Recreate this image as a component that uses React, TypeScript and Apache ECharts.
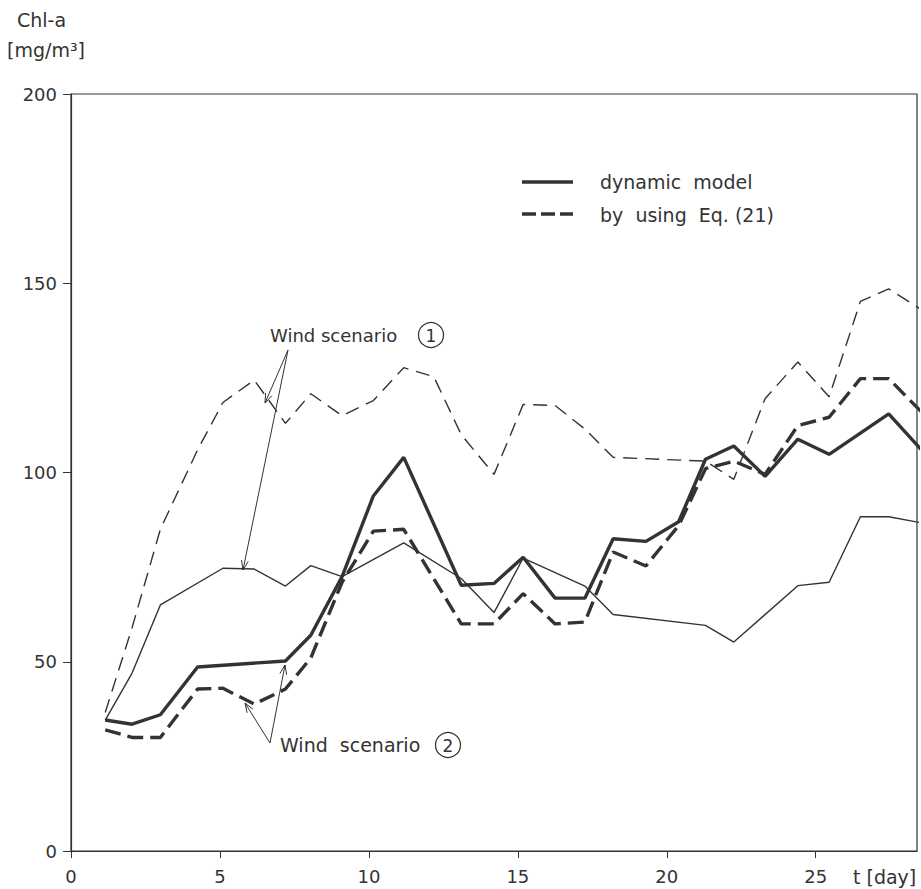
import React, { useEffect, useRef } from "react";
import * as echarts from "echarts";

// time points (days) of the plotted vertices
const days = [1.15, 2.05, 3.0, 4.25, 5.1, 6.15, 7.2, 8.05, 9.1, 10.15, 11.17, 12.18, 13.1, 14.2, 15.18, 16.25, 17.25, 18.2, 19.3, 20.4, 21.3, 22.25, 23.3, 24.4, 25.45, 26.5, 27.45, 28.55];

// Wind scenario 2 (thick lines)
const dynamicS2 = [34.6, 33.5, 36, 48.6, null, null, 50.2, 57, 72.5, 93.8, 104, null, 70.2, 70.7, 77.6, 66.8, 66.8, 82.5, 81.8, 87, 103.5, 107, 99, 108.8, 104.8, null, 115.5, 106];
const eq21S2 = [32, 30, 30, 42.8, 43, 38.8, 42.8, 51, 71, 84.5, 85, null, 60, 60, 68, 60, 60.5, 79, 75.3, 86, 101, 103, 99.5, 112.4, 114.6, 124.8, 124.8, 116];

// Wind scenario 1 (thin lines)
const dynamicS1 = [34.6, 47, 65, null, 74.7, 74.5, 70, 75.4, 72.5, null, 81.4, null, 72, 63, 77.4, null, 70, 62.5, null, null, 59.6, 55.2, null, 70.1, 71, 88.3, 88.3, 86.7];
const eq21S1 = [36.6, 59, 85, 106, 118.5, 124.4, 113, 120.8, 115, 119, 127.7, 125.3, 110, 99.5, 118, 117.7, 111.5, 104, null, null, 103, 98.2, 119.5, 129.2, 120, 145.2, 148.5, 143];

const xTicks = [0, 5, 10, 15, 20, 25];
const yTicks = [0, 50, 100, 150, 200];

const INK = "#333333";
const FONT = "DejaVu Sans";
const NB = "\u00a0";

function pair(vals: (number | null)[]) {
  return days.map((d, i) => [d, vals[i]]);
}

function arrow(ax: number, ay: number, tx: number, ty: number) {
  const dx = ax - tx;
  const dy = ay - ty;
  const len = Math.sqrt(dx * dx + dy * dy);
  const ux = dx / len;
  const uy = dy / len;
  const a = (20 * Math.PI) / 180;
  const h = 10;
  const p1 = [tx + h * (ux * Math.cos(a) - uy * Math.sin(a)), ty + h * (ux * Math.sin(a) + uy * Math.cos(a))];
  const p2 = [tx + h * (ux * Math.cos(-a) - uy * Math.sin(-a)), ty + h * (ux * Math.sin(-a) + uy * Math.cos(-a))];
  return [
    { type: "line", shape: { x1: ax, y1: ay, x2: tx, y2: ty }, style: { stroke: INK, lineWidth: 1 } },
    { type: "polyline", shape: { points: [p1, [tx, ty], p2] }, style: { stroke: INK, lineWidth: 1, fill: "none" } },
  ];
}

function txt(text: string, x: number, y: number, size = 18, align = "left") {
  return {
    type: "text",
    x,
    y,
    style: { text, fill: INK, fontSize: size, fontFamily: FONT, textAlign: align, textVerticalAlign: "middle" },
  };
}

export default function App() {
  const ref = useRef<HTMLDivElement>(null);
  useEffect(() => {
    if (!ref.current) return;
    const chart = echarts.init(ref.current, null, { renderer: "svg" });
    const thin = 1.4;
    const thick = 3.4;
    chart.setOption({
      animation: false,
      backgroundColor: "#ffffff",
      grid: { left: 71, right: 4, top: 94, bottom: 38, show: true, borderColor: INK, borderWidth: 1.2, backgroundColor: "transparent" },
      xAxis: {
        type: "value",
        min: 0,
        max: 28.4,
        interval: 5,
        axisLine: { show: true, lineStyle: { color: INK, width: 1.2 } },
        axisTick: { show: true, length: 7, lineStyle: { color: INK }, customValues: xTicks },
        axisLabel: { color: INK, fontSize: 18, fontFamily: FONT, margin: 16, customValues: xTicks },
        splitLine: { show: false },
      },
      yAxis: {
        type: "value",
        min: 0,
        max: 200,
        interval: 50,
        axisLine: { show: true, lineStyle: { color: INK, width: 1.2 } },
        axisTick: { show: true, length: 8, lineStyle: { color: INK }, customValues: yTicks },
        axisLabel: { color: INK, fontSize: 18, fontFamily: FONT, margin: 14, customValues: yTicks },
        splitLine: { show: false },
      },
      series: [
        { name: "dynamic model", type: "line", data: pair(dynamicS2), connectNulls: true, symbol: "none", lineStyle: { color: INK, width: thick, type: "solid" } },
        { name: "by using Eq. (21)", type: "line", data: pair(eq21S2), connectNulls: true, symbol: "none", lineStyle: { color: INK, width: thick, type: [16, 7] } },
        { name: "dynamic model (wind 1)", type: "line", data: pair(dynamicS1), connectNulls: true, symbol: "none", lineStyle: { color: INK, width: thin, type: "solid" } },
        { name: "by using Eq. (21) (wind 1)", type: "line", data: pair(eq21S1), connectNulls: true, symbol: "none", lineStyle: { color: INK, width: thin, type: [14, 8] } },
      ],
      graphic: [
        txt("Chl-a", 17, 20, 19),
        txt("[mg/m³]", 7, 50, 19),
        txt("t" + NB + "[day]", 853, 877, 19),
        // legend
        { type: "line", shape: { x1: 522, y1: 182, x2: 573, y2: 182 }, style: { stroke: INK, lineWidth: thick } },
        { type: "line", shape: { x1: 522, y1: 214, x2: 573, y2: 214 }, style: { stroke: INK, lineWidth: thick, lineDash: [14, 5] } },
        txt("dynamic" + NB + NB + "model", 600, 182, 19),
        txt("by" + NB + NB + "using" + NB + NB + "Eq." + NB + "(21)", 600, 215, 19),
        // wind scenario 1
        txt("Wind" + NB + "scenario", 270, 335, 18),
        { type: "circle", shape: { cx: 431, cy: 335, r: 12.5 }, style: { fill: "none", stroke: INK, lineWidth: 1.2 } },
        txt("1", 431, 336, 17, "center"),
        ...arrow(288, 350, 265, 403),
        ...arrow(288, 350, 243, 570),
        // wind scenario 2
        txt("Wind" + NB + NB + "scenario", 280, 745, 19),
        { type: "circle", shape: { cx: 448, cy: 745, r: 12.5 }, style: { fill: "none", stroke: INK, lineWidth: 1.2 } },
        txt("2", 448, 746, 17, "center"),
        ...arrow(270, 743, 245, 703),
        ...arrow(270, 743, 285, 665),
      ],
    });
    return () => chart.dispose();
  }, []);
  return <div ref={ref} style={{ position: "fixed", left: 0, top: 0, width: 921, height: 889 }} />;
}
